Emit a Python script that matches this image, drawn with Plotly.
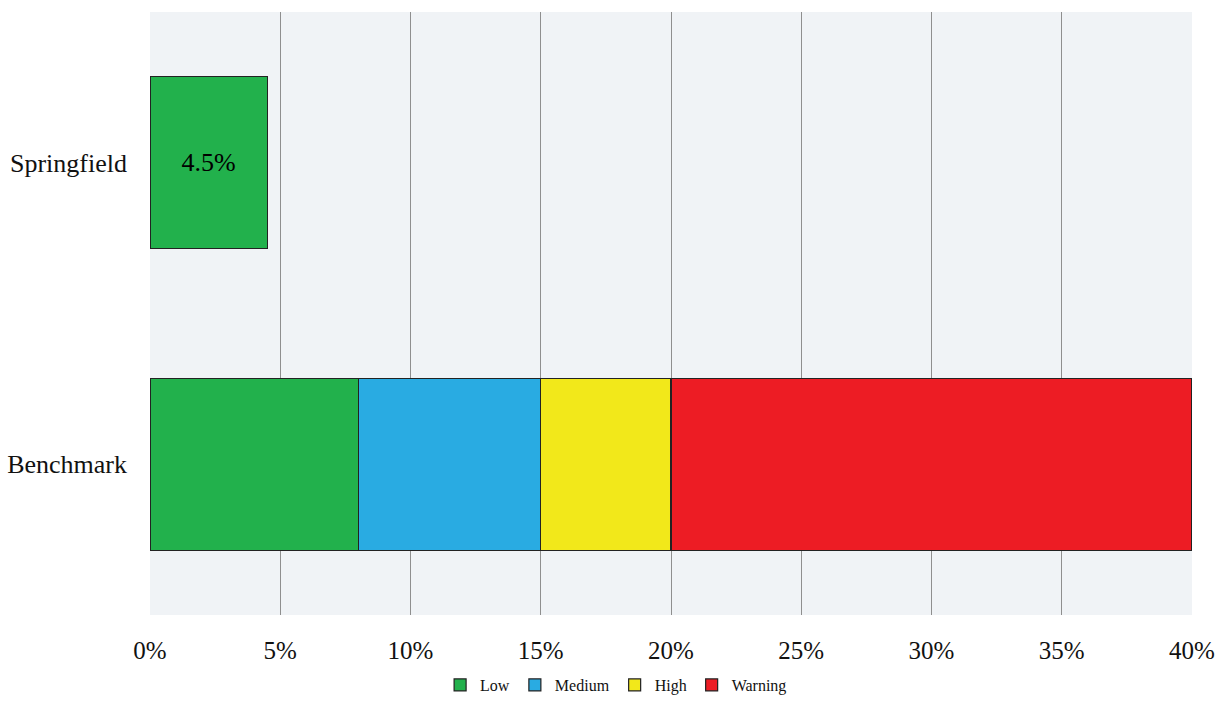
import plotly.graph_objects as go

categories = ["Benchmark", "Springfield"]
series_names = ["Low", "Medium", "High", "Warning"]
low_vals = [8, 4.5]
medium_vals = [7, None]
high_vals = [5, None]
warning_vals = [20, None]
colors = ["#22b14c", "#29abe2", "#f2e81a", "#ed1c24"]
tick_vals = [0, 5, 10, 15, 20, 25, 30, 35, 40]
tick_text = [f"{v}%" for v in tick_vals]

values = [low_vals, medium_vals, high_vals, warning_vals]
serif = "Liberation Serif, Times New Roman, serif"

fig = go.Figure()
for name, vals, col in zip(series_names, values, colors):
    text = [None, "4.5%"] if name == "Low" else None
    fig.add_trace(go.Bar(
        y=categories, x=vals, name=name, orientation="h",
        marker=dict(color=col, line=dict(color="#222222", width=1.2)),
        width=0.57,
        text=text, textposition="inside", insidetextanchor="middle",
        textfont=dict(family=serif, size=26, color="#000000"),
        hoverinfo="skip",
    ))

fig.update_layout(
    barmode="stack",
    width=1220, height=702,
    margin=dict(l=150, r=28, t=12, b=87, autoexpand=False),
    paper_bgcolor="white",
    plot_bgcolor="#f0f3f6",
    font=dict(family=serif, size=26, color="#111111"),
    showlegend=True,
    legend=dict(orientation="h", x=0.505, xanchor="center", xref="container",
                y=-0.018, yanchor="bottom", yref="container",
                font=dict(family=serif, size=16), itemwidth=30,
                traceorder="normal", bgcolor="rgba(0,0,0,0)"),
    xaxis=dict(range=[0, 40], tickvals=tick_vals, ticktext=tick_text,
               showgrid=True, gridcolor="#8f8f8f", gridwidth=1, zeroline=False,
               showline=False, ticks="", ticklabelstandoff=18,
               tickfont=dict(family=serif, size=25), automargin=False),
    yaxis=dict(range=[-0.5, 1.5], showgrid=False, zeroline=False, ticks="",
               ticklabelstandoff=22, tickfont=dict(family=serif, size=26),
               automargin=False),
)

fig.write_html("out.html", config={"displayModeBar": False},
               post_script="document.body.style.margin='0';document.body.style.padding='0';")
